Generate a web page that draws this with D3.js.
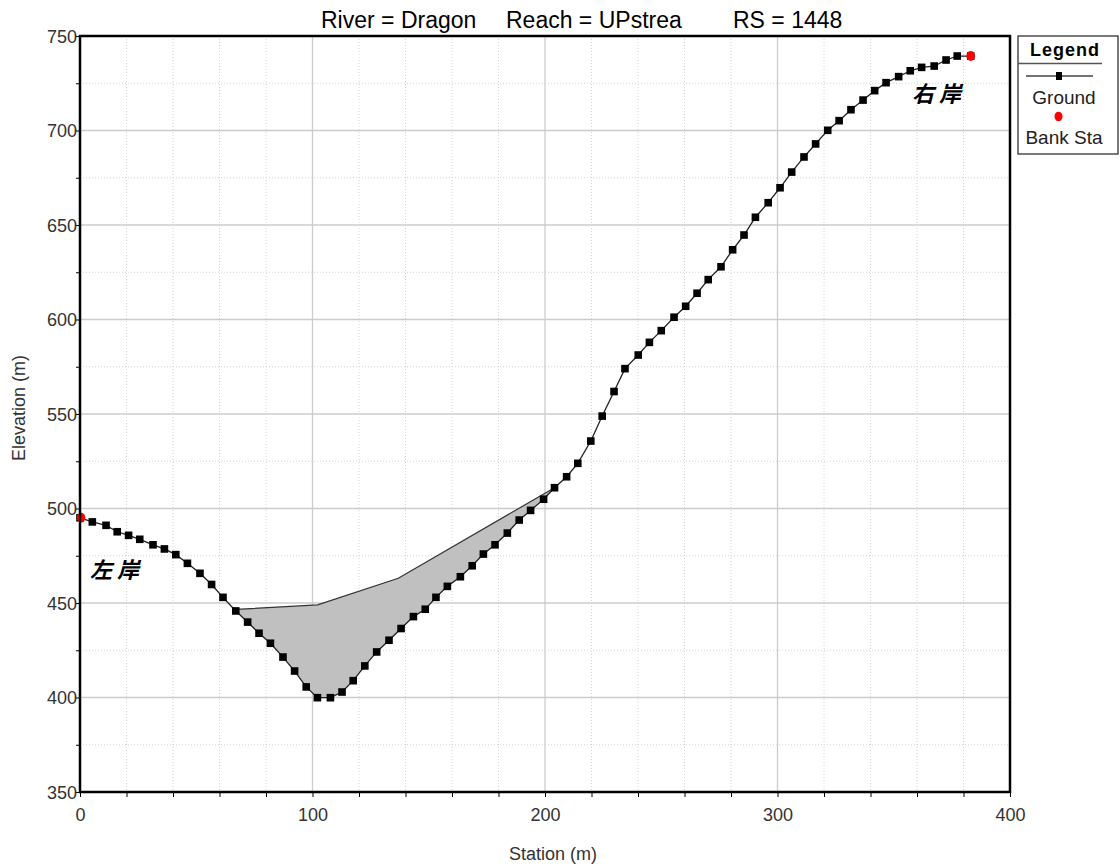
<!DOCTYPE html>
<html>
<head>
<meta charset="utf-8">
<script src="https://cdn.jsdelivr.net/npm/d3@7"></script>
<style>
  html, body { margin: 0; padding: 0; background: #fff; }
  svg { display: block; font-family: "Liberation Sans", Arial, sans-serif; }
</style>
</head>
<body>
<svg id="chart" width="1120" height="868"></svg>
<script>
// Cross-section ground profile (station m, elevation m)
const groundStation = [
  0, 5.3, 11.2, 16.0, 20.9, 25.7, 31.4, 36.3, 41.2, 46.2,
  51.6, 56.6, 61.5, 67.0, 72.1, 77.0, 81.9, 87.3, 92.3, 97.3,
  102.1, 107.7, 112.7, 117.5, 122.5, 127.6, 132.9, 138.1, 143.4, 148.5,
  153.1, 158.0, 163.6, 168.7, 173.5, 178.5, 183.8, 188.9, 193.8, 199.4,
  204.1, 209.3, 214.1, 219.7, 224.6, 229.7, 234.4, 240.1, 244.9, 250.0,
  255.5, 260.5, 265.4, 270.2, 275.7, 280.7, 285.6, 290.5, 296.0, 301.1,
  306.1, 311.4, 316.4, 321.6, 326.5, 331.6, 336.8, 341.8, 346.7, 352.1,
  357.1, 362.0, 367.4, 372.5, 377.3, 383.1
];
const groundElevation = [
  495.1, 492.9, 491.1, 487.7, 485.8, 483.7, 480.8, 478.6, 475.6, 471.0,
  465.7, 459.8, 453.0, 445.8, 439.9, 434.0, 428.7, 421.4, 414.0, 405.6,
  399.9, 399.9, 402.9, 408.9, 416.7, 424.1, 430.3, 436.5, 442.8, 446.7,
  453.0, 458.8, 463.9, 469.7, 475.9, 480.8, 487.0, 493.9, 499.0, 504.9,
  511.0, 516.8, 523.9, 535.7, 548.9, 561.9, 574.0, 581.2, 587.9, 594.1,
  601.2, 607.0, 613.9, 621.1, 627.9, 636.9, 644.7, 654.1, 661.8, 669.7,
  678.0, 686.0, 692.9, 700.1, 705.2, 711.0, 716.1, 721.1, 725.3, 728.5,
  731.6, 733.4, 734.1, 737.3, 739.4, 739.4
];

// Bank stations (left, right)
const bankStation = [0, 383.1];
const bankElevation = [495.1, 739.4];
const bankLabels = ["左岸", "右岸"];

// Upper boundary of the shaded area
const fillStation = [67.0, 102.2, 136.9, 204.1];
const fillElevation = [446.6, 449.0, 463.1, 511.0];

// Axis ticks
const xMajorTicks = [0, 100, 200, 300, 400];
const yMajorTicks = [350, 400, 450, 500, 550, 600, 650, 700, 750];
const xMinorStep = 20;
const yMinorStep = 25;

const titleParts = ["River = Dragon", "Reach = UPstrea", "RS = 1448"];
const legendItems = ["Ground", "Bank Sta"];

const svg = d3.select("#chart");
const plot = { left: 80, right: 1010, top: 36, bottom: 792 };

const x = d3.scaleLinear().domain([0, 400]).range([plot.left, plot.right]);
const y = d3.scaleLinear().domain([350, 750]).range([plot.bottom, plot.top]);

// Grid: dotted minor lines, solid light major lines
const grid = svg.append("g");
d3.range(0, 401, xMinorStep).filter(v => v % 100 !== 0).forEach(v => {
  grid.append("line").attr("x1", x(v)).attr("x2", x(v))
    .attr("y1", plot.top).attr("y2", plot.bottom)
    .attr("stroke", "#d4d4d4").attr("stroke-width", 1).attr("stroke-dasharray", "1,2");
});
d3.range(350, 751, yMinorStep).filter(v => v % 50 !== 0).forEach(v => {
  grid.append("line").attr("x1", plot.left).attr("x2", plot.right)
    .attr("y1", y(v)).attr("y2", y(v))
    .attr("stroke", "#d4d4d4").attr("stroke-width", 1).attr("stroke-dasharray", "1,2");
});
xMajorTicks.forEach(v => {
  grid.append("line").attr("x1", x(v)).attr("x2", x(v))
    .attr("y1", plot.top).attr("y2", plot.bottom)
    .attr("stroke", "#cccccc").attr("stroke-width", 1.3);
});
yMajorTicks.forEach(v => {
  grid.append("line").attr("x1", plot.left).attr("x2", plot.right)
    .attr("y1", y(v)).attr("y2", y(v))
    .attr("stroke", "#cccccc").attr("stroke-width", 1.3);
});

// Shaded area between upper boundary and ground
const upper = fillStation.map((s, i) => [s, fillElevation[i]]);
const lower = groundStation
  .map((s, i) => [s, groundElevation[i]])
  .filter(p => p[0] >= fillStation[0] && p[0] <= fillStation[fillStation.length - 1])
  .reverse();
const areaPts = upper.concat(lower);
svg.append("path")
  .attr("d", d3.line().x(d => x(d[0])).y(d => y(d[1]))(areaPts) + "Z")
  .attr("fill", "#c0c0c0").attr("stroke", "none");
svg.append("path")
  .attr("d", d3.line().x(d => x(d[0])).y(d => y(d[1]))(upper))
  .attr("fill", "none").attr("stroke", "#333").attr("stroke-width", 1.2);

// Ground line and markers
const groundPts = groundStation.map((s, i) => [s, groundElevation[i]]);
svg.append("path")
  .attr("d", d3.line().x(d => x(d[0])).y(d => y(d[1]))(groundPts))
  .attr("fill", "none").attr("stroke", "#222").attr("stroke-width", 1.3);
svg.append("g").selectAll("rect").data(groundPts).join("rect")
  .attr("x", d => x(d[0]) - 3.8).attr("y", d => y(d[1]) - 3.8)
  .attr("width", 7.6).attr("height", 7.6).attr("fill", "#000");

// Bank stations
svg.append("g").selectAll("ellipse").data(bankStation).join("ellipse")
  .attr("cx", (d, i) => x(d) + (i === 0 ? 1 : 0)).attr("cy", (d, i) => y(bankElevation[i]))
  .attr("rx", 4.3).attr("ry", 5).attr("fill", "#ff0000");

// Bank labels
const bankLabelPos = [[90, 578], [912, 102]];
svg.append("g").selectAll("text").data(bankLabels).join("text")
  .attr("x", (d, i) => bankLabelPos[i][0]).attr("y", (d, i) => bankLabelPos[i][1])
  .attr("font-family", "'Noto Sans CJK SC', 'Noto Sans CJK JP', sans-serif")
  .attr("font-size", 22).attr("font-weight", "bold").attr("font-style", "italic")
  .attr("letter-spacing", 5).attr("fill", "#000")
  .text(d => d);

// Axes
const xAxis = d3.axisBottom(x)
  .tickValues(d3.range(0, 401, xMinorStep))
  .tickSize(5)
  .tickFormat(v => v % 100 === 0 ? v : "");
const gx = svg.append("g").attr("transform", `translate(0,${plot.bottom})`).call(xAxis);
gx.select(".domain").remove();
gx.selectAll(".tick line").attr("stroke", "#000");
gx.selectAll(".tick text").attr("font-size", 18).attr("fill", "#333")
  .attr("font-family", "'Liberation Sans', Arial, sans-serif").attr("dy", "1.15em");

const yAxis = d3.axisLeft(y)
  .tickValues(d3.range(350, 751, yMinorStep))
  .tickSize(4)
  .tickFormat(v => v % 50 === 0 ? v : "");
const gy = svg.append("g").attr("transform", `translate(${plot.left},0)`).call(yAxis);
gy.select(".domain").remove();
gy.selectAll(".tick line").attr("stroke", "#000");
gy.selectAll(".tick text").attr("font-size", 18).attr("fill", "#333")
  .attr("font-family", "'Liberation Sans', Arial, sans-serif").attr("x", -3).attr("dy", "0.36em");

// Plot frame
svg.append("rect")
  .attr("x", plot.left).attr("y", plot.top)
  .attr("width", plot.right - plot.left).attr("height", plot.bottom - plot.top)
  .attr("fill", "none").attr("stroke", "#000").attr("stroke-width", 2.5);

// Title
const titleX = [321, 506, 733];
svg.append("g").selectAll("text").data(titleParts).join("text")
  .attr("x", (d, i) => titleX[i]).attr("y", 28)
  .attr("font-size", 23).attr("fill", "#000")
  .text(d => d);

// Axis titles
svg.append("text")
  .attr("x", x(200) + 8).attr("y", 860).attr("text-anchor", "middle")
  .attr("font-size", 18).attr("fill", "#333").text("Station (m)");
svg.append("text")
  .attr("transform", `translate(25,${(plot.top + plot.bottom) / 2 - 6}) rotate(-90)`)
  .attr("text-anchor", "middle")
  .attr("font-size", 18).attr("fill", "#333").text("Elevation (m)");

// Legend
const lg = svg.append("g");
lg.append("rect").attr("x", 1018).attr("y", 36).attr("width", 100).attr("height", 118)
  .attr("fill", "#fff").attr("stroke", "#333").attr("stroke-width", 1.3);
lg.append("text").attr("x", 1065).attr("y", 56).attr("text-anchor", "middle")
  .attr("font-size", 18).attr("font-weight", "bold").attr("letter-spacing", 1)
  .attr("fill", "#000").text("Legend");
lg.append("line").attr("x1", 1018).attr("x2", 1102).attr("y1", 63.5).attr("y2", 63.5)
  .attr("stroke", "#555").attr("stroke-width", 1.3);
lg.append("line").attr("x1", 1026).attr("x2", 1093).attr("y1", 76).attr("y2", 76)
  .attr("stroke", "#444").attr("stroke-width", 1.3);
lg.append("rect").attr("x", 1056).attr("y", 72).attr("width", 6).attr("height", 8).attr("fill", "#000");
lg.append("ellipse").attr("cx", 1058.5).attr("cy", 116.5).attr("rx", 4).attr("ry", 4.8).attr("fill", "#ff0000");
lg.selectAll("text.item").data(legendItems).join("text").attr("class", "item")
  .attr("x", 1064).attr("y", (d, i) => i === 0 ? 104 : 144).attr("text-anchor", "middle")
  .attr("font-size", 19).attr("fill", "#222").text(d => d);
</script>
</body>
</html>
